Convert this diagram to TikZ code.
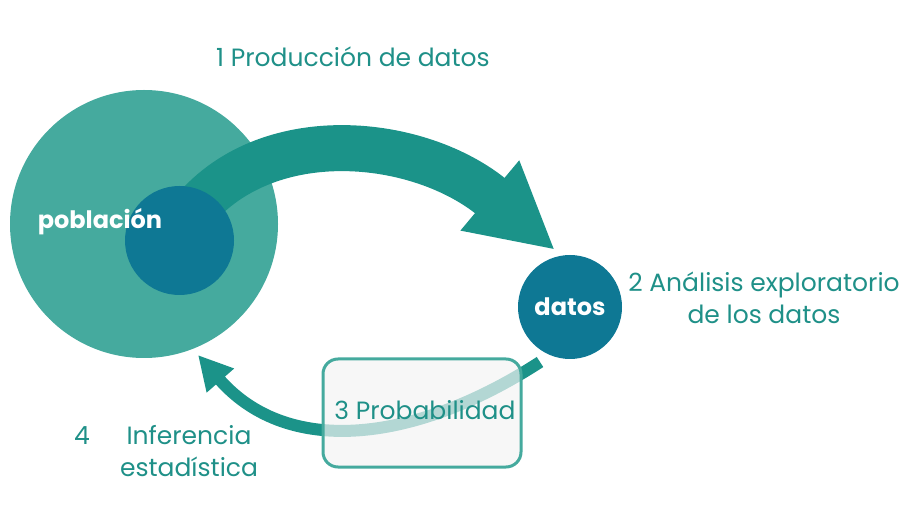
\documentclass[tikz,border=0pt]{standalone}
\usepackage{fontspec}
\setmainfont{Poppins}
\usetikzlibrary{arrows.meta}

\definecolor{verde}{HTML}{45AA9E}
\definecolor{azul}{HTML}{0E7894}
\definecolor{flecha}{HTML}{1B9389}
\definecolor{texto}{HTML}{1F9088}
\definecolor{caja}{HTML}{F4F4F4}

\tikzset{
  circulo/.style={circle,inner sep=0pt},
  blanco/.style={text=white,inner sep=0pt,font=\bfseries\fontsize{24}{28}\selectfont},
  etiqueta/.style={text=texto,inner sep=0pt,align=center,font=\fontsize{25}{32}\selectfont},
}

\begin{document}
\begin{tikzpicture}[x=1pt,y=-1pt]
\useasboundingbox (0,0) rectangle (918,526);

% Population (big circle)
\node[circulo,fill=verde,minimum size=268] (poblacion) at (144,224) {};

% Production arrow (thick, behind the sample)
\coordinate (puntaA) at (555,250);
\draw[flecha,line width=46,-{Triangle[length=85pt,width=85pt]}]
  (190,215) .. controls (265,120) and (420,137) .. (puntaA);

% Sample inside the population
\node[circulo,fill=azul,minimum size=109] (muestra) at (179.5,240.5) {};
\node[blanco] (poblaciontxt) at (100,222) {población};

% Probability arrow (back to population)
\coordinate (salidaB) at (540,362);
\coordinate (puntaB) at (198,355);
\draw[flecha,line width=12,-{Triangle[length=34pt,width=34pt]}]
  (salidaB) .. controls (420,440) and (290,460) .. (puntaB);

% Data circle
\node[circulo,fill=azul,minimum size=104,blanco] (datos) at (570,307) {datos};

% Probability box (semi transparent over the arrow)
\node[draw=verde,line width=3,fill=caja,fill opacity=0.7,rounded corners=15,
  minimum width=198,minimum height=108] (caja) at (422,413) {};
\node[etiqueta] (probabilidad) at (425,410) {3 Probabilidad};

% Labels
\node[etiqueta] (produccion) at (353,57) {1 Producción de datos};
\node[etiqueta] (analisis) at (764,298) {2 Análisis exploratorio\\de los datos};
\node[etiqueta] (cuatro) at (82,436) {4};
\node[etiqueta] (inferencia) at (189,451) {Inferencia\\estadística};

\end{tikzpicture}
\end{document}
